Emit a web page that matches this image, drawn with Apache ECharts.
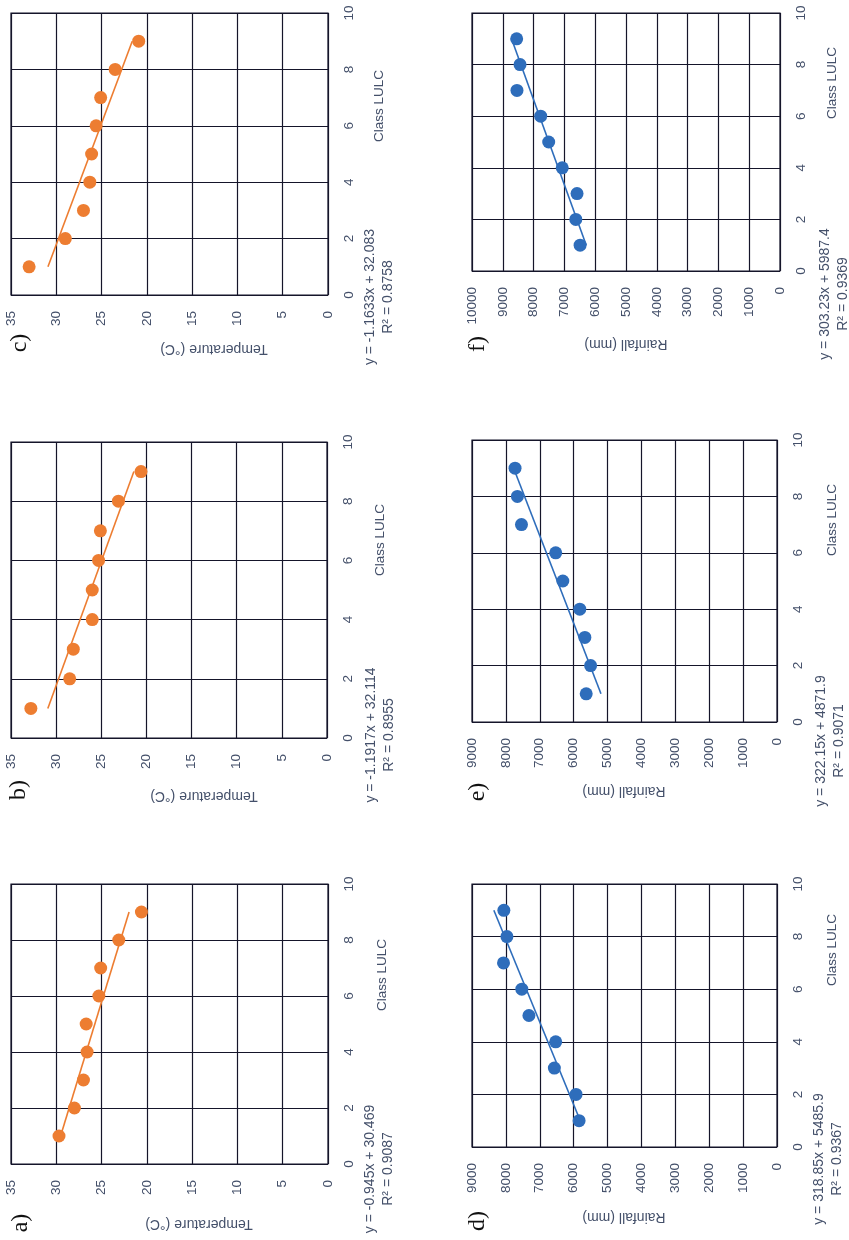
<!DOCTYPE html>
<html>
<head>
<meta charset="utf-8">
<script src="https://cdn.jsdelivr.net/npm/echarts@6/dist/echarts.min.js"></script>
<style>
  html, body { margin: 0; padding: 0; background: #ffffff; }
  #chart { width: 849px; height: 1240px; }
</style>
</head>
<body>
<div id="chart"></div>
<script>
// ---------------- DATA ----------------
const panelLetters = ['a)', 'b)', 'c)', 'd)', 'e)', 'f)'];
const classLULC = [1, 2, 3, 4, 5, 6, 7, 8, 9];
const classTicks = [0, 2, 4, 6, 8, 10];

// Temperature (°C) per class
const tempA = [29.7, 28.0, 27.0, 26.6, 26.7, 25.3, 25.1, 23.1, 20.6];
const tempB = [32.8, 28.5, 28.1, 26.0, 26.0, 25.3, 25.1, 23.1, 20.6];
const tempC = [33.0, 29.0, 27.0, 26.3, 26.1, 25.6, 25.1, 23.5, 20.9];
// Rainfall (mm) per class
const rainD = [5840, 5930, 6570, 6530, 7320, 7530, 8070, 7970, 8060];
const rainE = [5630, 5500, 5670, 5820, 6320, 6530, 7540, 7660, 7730];
const rainF = [6490, 6630, 6590, 7070, 7510, 7770, 8540, 8440, 8550];

// Linear trend lines (Excel): y = slope * class + intercept
const slopes     = [-0.945, -1.1917, -1.1633, 318.85, 322.15, 303.23];
const intercepts = [30.469, 32.114, 32.083, 5485.9, 4871.9, 5987.4];
const rSquared   = ['0.9087', '0.8955', '0.8758', '0.9367', '0.9071', '0.9369'];

// Value-axis tick settings
const tempTicks = { min: 0, max: 35, interval: 5 };
const rainTicks9 = { min: 0, max: 9000, interval: 1000 };
const rainTicks10 = { min: 0, max: 10000, interval: 1000 };

const seriesValues = [tempA, tempB, tempC, rainD, rainE, rainF];
const valueTicks = [tempTicks, tempTicks, tempTicks, rainTicks9, rainTicks9, rainTicks10];
const valueTitles = ['Temperature (°C)', 'Temperature (°C)', 'Temperature (°C)',
                     'Rainfall (mm)', 'Rainfall (mm)', 'Rainfall (mm)'];
const classTitle = 'Class LULC';

// ---------------- LAYOUT / STYLE ----------------
const ORANGE = '#ED7D31';
const BLUE = '#2E6DBB';
const colors = [ORANGE, ORANGE, ORANGE, BLUE, BLUE, BLUE];
const GRIDLINE = '#15152a';
const TEXT = '#44506A';
const SANS = "'Liberation Sans', Arial, sans-serif";
const SERIF = "'Liberation Serif', 'Times New Roman', serif";

const grids = [
  { left: 11,  top: 884, width: 317, height: 280 }, // a
  { left: 11,  top: 442, width: 316, height: 296 }, // b
  { left: 11,  top: 13,  width: 317, height: 282 }, // c
  { left: 472, top: 884, width: 305, height: 263 }, // d
  { left: 472, top: 440, width: 305, height: 282 }, // e
  { left: 472, top: 13,  width: 308, height: 258 }  // f
];
// text anchor positions (layout only)
const letterPos   = [[21, 1223], [19, 790], [20, 343], [478, 1221], [478, 792], [478, 344]];
const valTitlePos = [[199, 1224], [204, 796], [214, 349], [624, 1217], [624, 791], [626, 344]];
const clsTitlePos = [[382, 975], [380, 540], [379, 106], [832, 950], [832, 520], [832, 83]];
const eqPos       = [[379, 1169], [380, 735], [379, 297], [828, 1159], [830, 741], [834, 294]];

function fmtEq(s, b) {
  const sign = b >= 0 ? ' + ' : ' - ';
  return 'y = ' + s + 'x' + sign + Math.abs(b);
}

const xAxes = [], yAxes = [], series = [], graphics = [];
for (let i = 0; i < 6; i++) {
  const t = valueTicks[i];
  xAxes.push({
    gridIndex: i, type: 'value', inverse: true, position: 'bottom',
    min: t.min, max: t.max, interval: t.interval,
    axisLine: { show: false }, axisTick: { show: false },
    splitLine: { show: true, lineStyle: { color: GRIDLINE, width: 1.2 } },
    axisLabel: { rotate: 90, margin: 16, color: TEXT, fontSize: 13.5, fontFamily: SANS,
                 showMinLabel: true, showMaxLabel: true,
                 formatter: v => String(v) }
  });
  yAxes.push({
    gridIndex: i, type: 'value', position: 'right',
    min: classTicks[0], max: classTicks[classTicks.length - 1],
    interval: classTicks[1] - classTicks[0],
    axisLine: { show: false }, axisTick: { show: false },
    splitLine: { show: true, lineStyle: { color: GRIDLINE, width: 1.2 } },
    axisLabel: { rotate: 90, margin: 14, color: TEXT, fontSize: 13.5, fontFamily: SANS,
                 showMinLabel: true, showMaxLabel: true,
                 formatter: v => String(v) }
  });
  const vals = seriesValues[i];
  series.push({
    type: 'scatter', xAxisIndex: i, yAxisIndex: i,
    symbol: 'circle', symbolSize: 13,
    itemStyle: { color: colors[i], opacity: 1 },
    data: classLULC.map((c, k) => [vals[k], c]),
    z: 3
  });
  const c0 = classLULC[0], c1 = classLULC[classLULC.length - 1];
  series.push({
    type: 'line', xAxisIndex: i, yAxisIndex: i,
    showSymbol: false, silent: true,
    lineStyle: { color: colors[i], width: 1.6 },
    data: [[slopes[i] * c0 + intercepts[i], c0], [slopes[i] * c1 + intercepts[i], c1]],
    z: 2
  });

  graphics.push({
    type: 'text', x: letterPos[i][0], y: letterPos[i][1], rotation: Math.PI / 2,
    style: { text: panelLetters[i], font: '24px ' + SERIF, fill: '#111111',
             textAlign: 'center', textVerticalAlign: 'middle' }
  });
  graphics.push({
    type: 'text', x: valTitlePos[i][0], y: valTitlePos[i][1], rotation: Math.PI,
    style: { text: valueTitles[i], font: '14px ' + SANS, fill: TEXT,
             textAlign: 'center', textVerticalAlign: 'middle' }
  });
  graphics.push({
    type: 'text', x: clsTitlePos[i][0], y: clsTitlePos[i][1], rotation: Math.PI / 2,
    style: { text: classTitle, font: '13.5px ' + SANS, fill: TEXT,
             textAlign: 'center', textVerticalAlign: 'middle' }
  });
  graphics.push({
    type: 'text', x: eqPos[i][0], y: eqPos[i][1], rotation: Math.PI / 2,
    style: { text: fmtEq(slopes[i], intercepts[i]) + '\nR² = ' + rSquared[i],
             font: '14px ' + SANS, fill: TEXT, lineHeight: 18,
             textAlign: 'center', textVerticalAlign: 'middle' }
  });
}

const chart = echarts.init(document.getElementById('chart'), null, { renderer: 'canvas' });
chart.setOption({
  animation: false,
  backgroundColor: '#ffffff',
  grid: grids.map(g => Object.assign({ show: true, borderColor: GRIDLINE, borderWidth: 1.2,
                                        containLabel: false }, g)),
  xAxis: xAxes,
  yAxis: yAxes,
  series: series,
  graphic: graphics
});
</script>
</body>
</html>
